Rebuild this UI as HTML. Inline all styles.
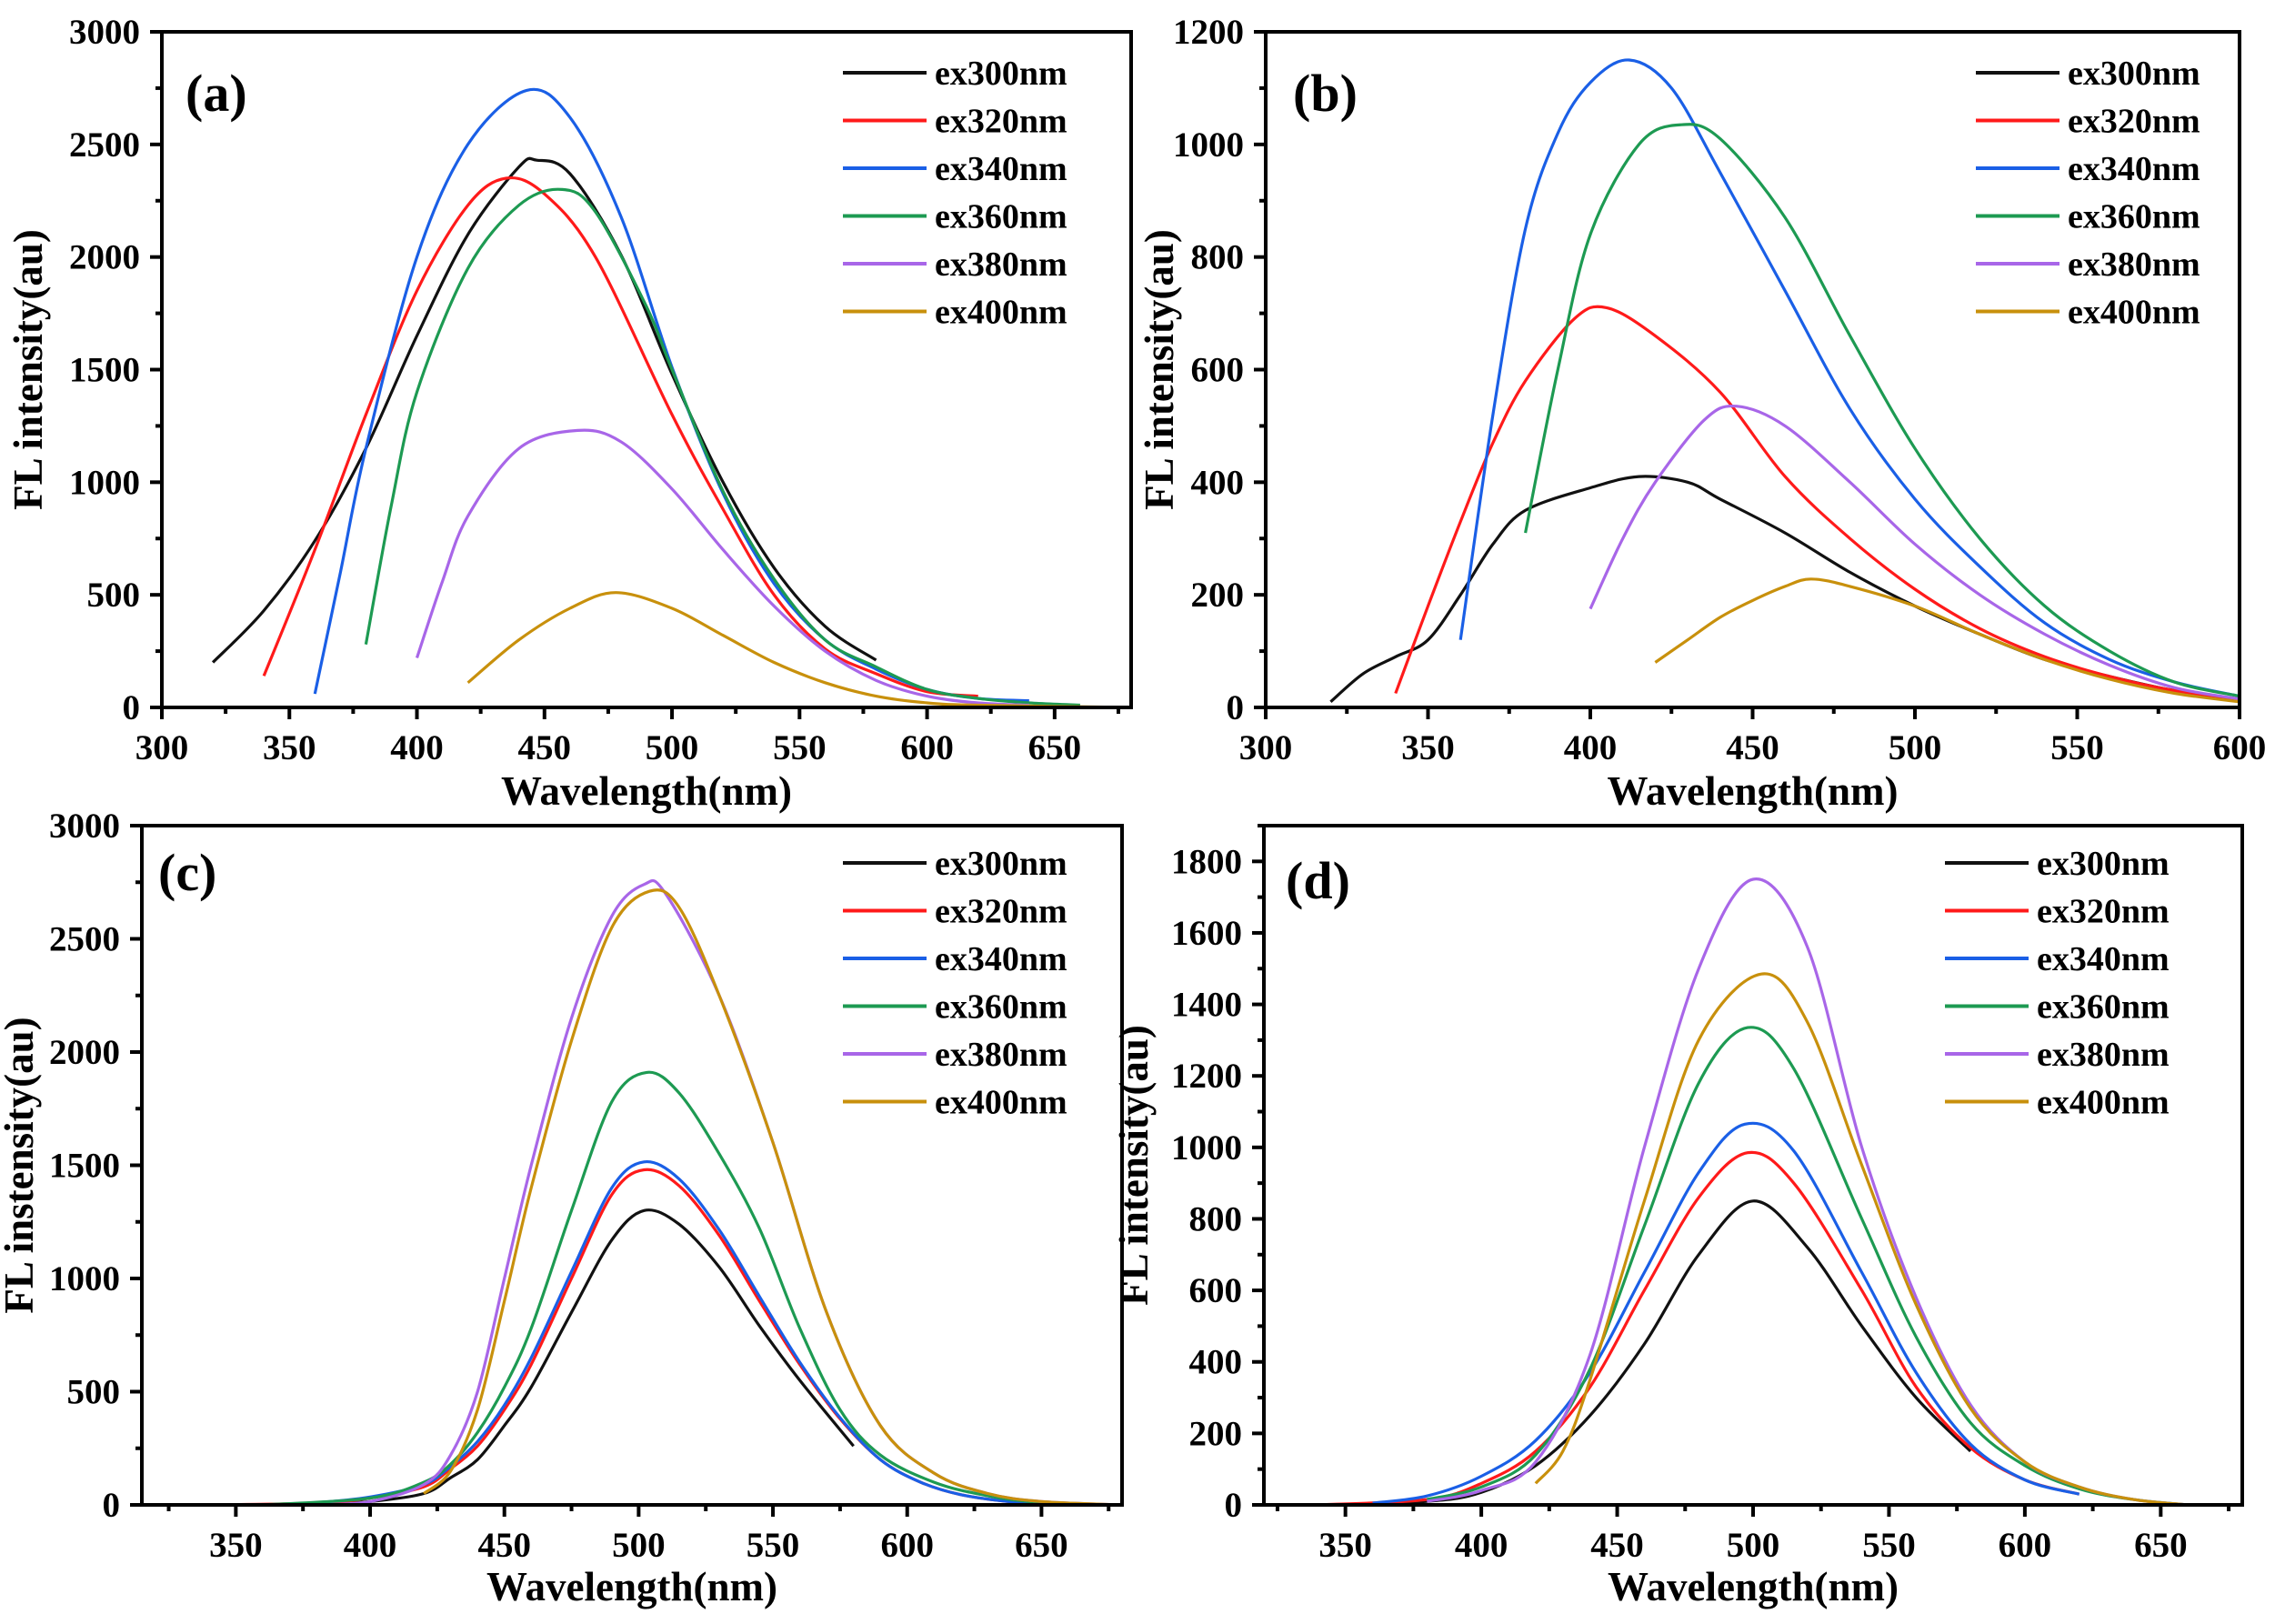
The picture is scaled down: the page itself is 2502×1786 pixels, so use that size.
<!DOCTYPE html>
<html><head><meta charset="utf-8">
<style>
html,body{margin:0;padding:0;background:#fff;}
svg{display:block;}
text{font-family:"Liberation Serif",serif;font-weight:bold;fill:#000;}
</style></head>
<body>
<svg id="fig" width="2502" height="1786" viewBox="0 0 2502 1786" xmlns="http://www.w3.org/2000/svg"></svg>
<script>
// ---------- Data (wavelength nm / intensity au) ----------
const seriesNames = ["ex300nm","ex320nm","ex340nm","ex360nm","ex380nm","ex400nm"];
const seriesColors = ["#111111","#ff1a1a","#1a5fe6","#1d9a52","#a866e8","#c8900c"];

// Panel (a)
const a300x=[320,340,360,380,400,420,440,447,460,480,500,520,540,560,580];
const a300y=[200,430,740,1150,1650,2100,2400,2430,2370,2010,1480,1000,620,360,210];
const a320x=[340,360,380,400,420,435,450,470,500,520,540,560,580,600,620];
const a320y=[140,700,1300,1850,2230,2350,2280,2000,1300,880,500,260,150,70,50];
const a340x=[360,370,380,400,420,443,460,480,500,520,540,560,580,600,620,640];
const a340y=[60,600,1150,2000,2500,2740,2620,2180,1510,950,550,300,170,80,40,30];
const a360x=[380,390,400,420,440,457,470,490,500,520,540,560,580,600,620,640,660];
const a360y=[280,900,1400,1950,2230,2300,2200,1780,1500,960,570,300,180,80,40,20,10];
const a380x=[400,410,420,440,463,480,500,520,540,560,580,600,620,640];
const a380y=[220,560,850,1150,1230,1180,970,700,450,250,120,50,20,10];
const a400x=[420,440,460,478,500,520,540,560,580,600,620,680];
const a400y=[110,300,440,510,440,320,200,110,50,20,10,0];

// Panel (b)
const b300x=[320,330,340,350,360,370,380,400,415,430,440,460,480,500,520,540,560,580,600];
const b300y=[10,60,90,120,200,290,350,390,410,400,370,310,240,180,130,85,55,30,15];
const b320x=[340,350,360,370,380,395,405,420,440,460,480,500,520,540,560,580,600];
const b320y=[25,180,330,470,580,690,710,660,560,410,300,210,140,90,55,30,15];
const b340x=[360,370,380,390,400,412,425,440,460,480,500,520,540,560,580,600];
const b340y=[120,520,850,1020,1110,1150,1100,950,740,530,370,250,150,85,45,20];
const b360x=[380,390,400,415,428,440,460,480,500,520,540,560,580,600];
const b360y=[310,600,840,1000,1035,1010,870,660,460,300,180,100,45,20];
const b380x=[400,410,420,435,445,460,480,500,520,540,560,580,600];
const b380y=[175,300,400,510,535,500,400,290,200,130,75,35,15];
const b400x=[420,430,440,450,460,468,480,500,520,540,560,580,600];
const b400y=[80,120,160,190,215,228,215,180,130,85,50,25,10];

// Panel (c)
const c300x=[340,380,400,420,430,440,450,460,475,490,502,515,530,545,560,580];
const c300y=[0,5,15,50,120,200,350,520,850,1170,1300,1240,1050,790,550,260];
const c320x=[340,380,400,420,430,440,450,460,475,490,502,515,530,545,560,575,590,605,620,640,660];
const c320y=[0,8,30,80,160,260,420,620,1000,1370,1480,1410,1190,900,620,380,200,100,45,12,0];
const c340x=[360,380,400,420,430,440,450,460,475,490,502,515,530,545,560,575,590,605,620,640,660];
const c340y=[0,10,35,90,170,280,440,650,1030,1400,1515,1440,1215,920,630,385,200,100,45,12,0];
const c360x=[360,400,420,430,440,450,460,475,490,503,515,530,545,560,575,590,610,630,650,680];
const c360y=[0,30,100,180,320,520,780,1300,1780,1910,1820,1550,1220,780,420,220,100,40,10,0];
const c380x=[380,400,420,430,440,450,460,475,490,502,510,530,550,570,590,610,630,650,680];
const c380y=[0,15,90,220,500,1000,1500,2150,2600,2740,2700,2250,1600,850,350,140,50,15,0];
const c400x=[420,430,440,450,460,475,490,504,515,530,550,570,590,610,630,650,680];
const c400y=[50,150,420,900,1400,2050,2550,2710,2640,2250,1600,850,350,140,50,15,0];

// Panel (d)
const d300x=[340,380,400,420,440,460,480,500,520,540,560,580];
const d300y=[0,10,35,110,250,450,700,850,720,500,300,150];
const d320x=[340,380,400,420,440,460,480,498,515,540,560,580,600,620];
const d320y=[0,15,60,150,330,600,860,985,900,600,330,160,70,30];
const d340x=[360,380,400,420,440,460,480,497,515,540,560,580,600,620];
const d340y=[5,25,80,180,370,650,930,1065,990,650,370,170,70,30];
const d360x=[380,400,420,440,460,480,498,515,540,560,580,600,620,640,660];
const d360y=[15,50,140,380,780,1180,1335,1220,800,470,230,110,45,15,0];
const d380x=[380,400,420,440,460,480,500,520,540,560,580,600,620,640,660];
const d380y=[10,40,120,420,1000,1500,1750,1560,1000,580,280,120,50,15,0];
const d400x=[420,430,440,460,480,503,520,540,560,580,600,620,640,660];
const d400y=[60,150,350,850,1300,1485,1350,950,560,270,120,50,15,0];

const xTicksA=[300,350,400,450,500,550,600,650];
const yTicksA=[0,500,1000,1500,2000,2500,3000];
const xTicksB=[300,350,400,450,500,550,600];
const yTicksB=[0,200,400,600,800,1000,1200];
const xTicksC=[350,400,450,500,550,600,650];
const yTicksC=[0,500,1000,1500,2000,2500,3000];
const xTicksD=[350,400,450,500,550,600,650];
const yTicksD=[0,200,400,600,800,1000,1200,1400,1600,1800];

// ---------- Drawing ----------
const NS="http://www.w3.org/2000/svg";
const svg=document.getElementById('fig');
function mk(tag,attrs,parent){const e=document.createElementNS(NS,tag);for(const k in attrs)e.setAttribute(k,attrs[k]);(parent||svg).appendChild(e);return e;}

const panels=[
 {id:'a',L:178,R:1244,T:35,B:778,x0:300,x1:680,y0:0,y1:3000,xt:xTicksA,xm:25,yt:yTicksA,ym:250,
  xs:[a300x,a320x,a340x,a360x,a380x,a400x],ys:[a300y,a320y,a340y,a360y,a380y,a400y],
  lab:[204,122],legX:927,legY:80,ytitle:'FL intensity(au)',ytx:46,xtitleY:885},
 {id:'b',L:1392,R:2463,T:35,B:778,x0:300,x1:600,y0:0,y1:1200,xt:xTicksB,xm:25,yt:yTicksB,ym:100,
  xs:[b300x,b320x,b340x,b360x,b380x,b400x],ys:[b300y,b320y,b340y,b360y,b380y,b400y],
  lab:[1422,122],legX:2173,legY:80,ytitle:'FL intensity(au)',ytx:1290,xtitleY:885},
 {id:'c',L:156,R:1234,T:908,B:1655,x0:315,x1:680,y0:0,y1:3000,xt:xTicksC,xm:25,yt:yTicksC,ym:250,
  xs:[c300x,c320x,c340x,c360x,c380x,c400x],ys:[c300y,c320y,c340y,c360y,c380y,c400y],
  lab:[174,979],legX:927,legY:949,ytitle:'FL instensity(au)',ytx:36,xtitleY:1760},
 {id:'d',L:1390,R:2466,T:908,B:1655,x0:320,x1:680,y0:0,y1:1900,xt:xTicksD,xm:25,yt:yTicksD,ym:100,
  xs:[d300x,d320x,d340x,d360x,d380x,d400x],ys:[d300y,d320y,d340y,d360y,d380y,d400y],
  lab:[1414,988],legX:2139,legY:949,ytitle:'FL intensity(au)',ytx:1262,xtitleY:1760}
];

function smoothPath(pts){
  let d='M'+pts[0][0].toFixed(1)+','+pts[0][1].toFixed(1);
  for(let i=0;i<pts.length-1;i++){
    const p0=pts[Math.max(0,i-1)],p1=pts[i],p2=pts[i+1],p3=pts[Math.min(pts.length-1,i+2)];
    const c1=[p1[0]+(p2[0]-p0[0])/6,p1[1]+(p2[1]-p0[1])/6];
    const c2=[p2[0]-(p3[0]-p1[0])/6,p2[1]-(p3[1]-p1[1])/6];
    d+=' C'+c1[0].toFixed(1)+','+c1[1].toFixed(1)+' '+c2[0].toFixed(1)+','+c2[1].toFixed(1)+' '+p2[0].toFixed(1)+','+p2[1].toFixed(1);
  }
  return d;
}

panels.forEach(p=>{
  const g=mk('g',{});
  
  
  const sx=v=>p.L+(v-p.x0)/(p.x1-p.x0)*(p.R-p.L);
  const sy=v=>p.B-(v-p.y0)/(p.y1-p.y0)*(p.B-p.T);
  const cx=(p.L+p.R)/2, cy=(p.T+p.B)/2;

  const sg=mk('g',{},g);
  
  
  p.xs.forEach((xa,i)=>{
    const pts=xa.map((x,j)=>[sx(x),sy(p.ys[i][j])]);
    const path=mk('path',{d:smoothPath(pts),fill:'none',stroke:seriesColors[i],'stroke-width':3.2,'stroke-linejoin':'round'},sg);
    
    
  });

  const fr=mk('rect',{x:p.L,y:p.T,width:p.R-p.L,height:p.B-p.T,fill:'none',stroke:'#000','stroke-width':4},g);
  
  

  const xg=mk('g',{},g);
  
  
  for(let v=Math.ceil(p.x0/p.xm)*p.xm; v<=p.x1; v+=p.xm){
    const major=p.xt.includes(v);
    mk('line',{x1:sx(v),x2:sx(v),y1:p.B,y2:p.B+(major?13:7),stroke:'#000','stroke-width':4},xg);
  }
  p.xt.forEach(v=>{
    const t=mk('text',{x:sx(v),y:p.B+57,'text-anchor':'middle','font-size':39},xg);
    t.textContent=v;
    
    
  });
  const xt=mk('text',{x:cx,y:p.xtitleY,'text-anchor':'middle','font-size':45},g);
  xt.textContent='Wavelength(nm)';
  
  

  const yg=mk('g',{},g);
  
  
  for(let v=p.y0; v<=p.y1; v+=p.ym){
    const major=p.yt.includes(v);
    mk('line',{x1:p.L,x2:p.L-(major?13:7),y1:sy(v),y2:sy(v),stroke:'#000','stroke-width':4},yg);
  }
  p.yt.forEach(v=>{
    const t=mk('text',{x:p.L-24,y:sy(v)+13,'text-anchor':'end','font-size':39},yg);
    t.textContent=v;
    
    
  });
  const yt=mk('text',{x:p.ytx,y:cy,'text-anchor':'middle','font-size':45,transform:'rotate(-90 '+p.ytx+' '+cy+')'},g);
  yt.textContent=p.ytitle;
  
  

  const lb=mk('text',{x:p.lab[0],y:p.lab[1],'font-size':58},g);
  lb.textContent='('+p.id+')';
  
  

  const lg=mk('g',{},g);
  
  
  seriesNames.forEach((n,i)=>{
    const yy=p.legY+i*52.5;
    const e=mk('g',{},lg);
    
    
    mk('line',{x1:p.legX,x2:p.legX+92,y1:yy,y2:yy,stroke:seriesColors[i],'stroke-width':4},e);
    const t=mk('text',{x:p.legX+101,y:yy+13,'font-size':38},e);
    t.textContent=n;
  });
});
</script>
</body></html>
